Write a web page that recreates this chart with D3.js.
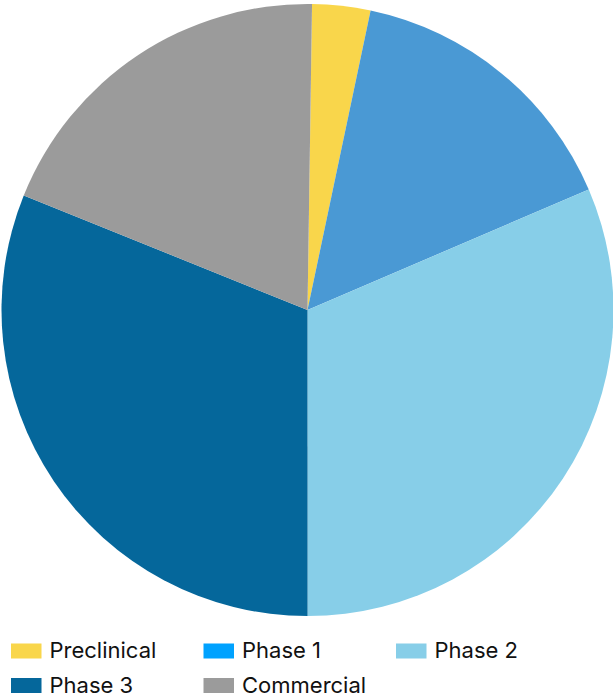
<!DOCTYPE html>
<html>
<head>
<meta charset="utf-8">
<script src="https://cdn.jsdelivr.net/npm/d3@7"></script>
<style>
  html, body { margin: 0; padding: 0; background: #ffffff; }
  svg { display: block; }
</style>
</head>
<body>
<svg id="chart" width="613" height="696"></svg>
<script>
// Data
const categories = ["Preclinical", "Phase 1", "Phase 2", "Phase 3", "Commercial"];
const values = [3.07, 15.25, 31.44, 31.11, 19.13];
const sliceColors = ["#f9d64b", "#4a99d4", "#87cee8", "#05679b", "#9b9b9b"];
const legendColors = ["#f9d64b", "#00a2ff", "#87cee8", "#05679b", "#9b9b9b"];

const svg = d3.select("#chart");
const cx = 307.5, cy = 310, R = 306;

const startRot = 0.85 * Math.PI / 180;
const pie = d3.pie().sort(null).value(d => d.v)
  .startAngle(startRot).endAngle(2 * Math.PI + startRot);
const data = categories.map((c, i) => ({ c, v: values[i], i }));
const arc = d3.arc().innerRadius(0).outerRadius(R);

svg.append("g")
  .attr("transform", `translate(${cx},${cy})`)
  .selectAll("path")
  .data(pie(data))
  .join("path")
  .attr("d", arc)
  .attr("fill", d => sliceColors[d.data.i]);

// Legend
const colX = d3.scaleOrdinal().domain([0, 1, 2]).range([11, 203.5, 396]);
const rowY = d3.scaleOrdinal().domain([0, 1]).range([643.5, 678]);
const lg = svg.append("g");
const items = lg.selectAll("g").data(categories).join("g")
  .attr("transform", (d, i) => `translate(${colX(i % 3)},${rowY(Math.floor(i / 3))})`);
items.append("rect")
  .attr("width", 30.5).attr("height", 15)
  .attr("fill", (d, i) => legendColors[i]);
items.append("text")
  .attr("x", 38.5).attr("y", 14.5)
  .attr("font-family", "Inter, Roboto, sans-serif")
  .attr("font-size", 22)
  .attr("fill", "#111111")
  .text(d => d);
</script>
</body>
</html>
